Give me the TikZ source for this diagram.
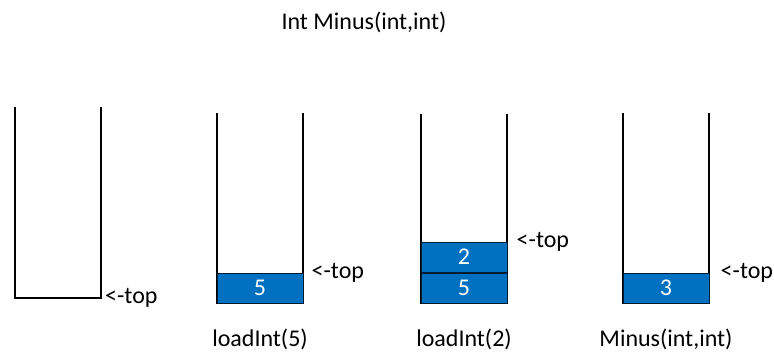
\documentclass[tikz,border=0pt]{standalone}
\usepackage{fontspec}
\setmainfont{Carlito}
\usepackage{tikz}
\usetikzlibrary{positioning}
\definecolor{cellblue}{HTML}{0070C0}
\tikzset{
  stack/.style={draw=black, line width=2pt},
  cell/.style={draw=black!75!cellblue, fill=cellblue, text=white, line width=1pt,
    minimum width=86pt, minimum height=30pt, inner sep=0pt},
  toplbl/.style={inner sep=0pt},
  caption/.style={inner sep=0pt}
}

\begin{document}
\begin{tikzpicture}[x=1pt, y=-1pt, font=\fontsize{24}{29}\selectfont]
    \useasboundingbox (0,0) rectangle (774,354);
    % Title
    \node[caption] (title) at (364,22) {Int Minus(int,int)};
    % Stacks
    \foreach \n/\x/\t/\b in {a/15/107/298, b/217/113/303, c/421/114/303, d/623/113/303} {
      \draw[stack] (\x,\t) -- (\x,\b) -- (\x+86,\b) -- (\x+86,\t);
      \coordinate (\n-base) at (\x+43,\b);
      \coordinate (\n-br) at (\x+86,\b);
    }
    % Cells
    \node[cell] (b5) at (260,288) {5};
    \node[cell] (c5) at (464,288) {5};
    \node[cell, above=0pt of c5] (c2) {2};
    \node[cell] (d3) at (666,288) {3};
    % Top markers
    \node[toplbl, right=4pt of a-br] (a-top) {<-top};
    \node[toplbl, right=8pt of b5.north east] (b-top) {<-top};
    \node[toplbl, right=9pt of c2.north east] (c-top) {<-top};
    \node[toplbl, right=11pt of d3.north east] (d-top) {<-top};
    % Captions
    \node[caption, below=26pt of b-base] (b-cap) {loadInt(5)};
    \node[caption, below=26pt of c-base] (c-cap) {loadInt(2)};
    \node[caption, below=26pt of d-base] (d-cap) {Minus(int,int)};
\end{tikzpicture}
\end{document}
